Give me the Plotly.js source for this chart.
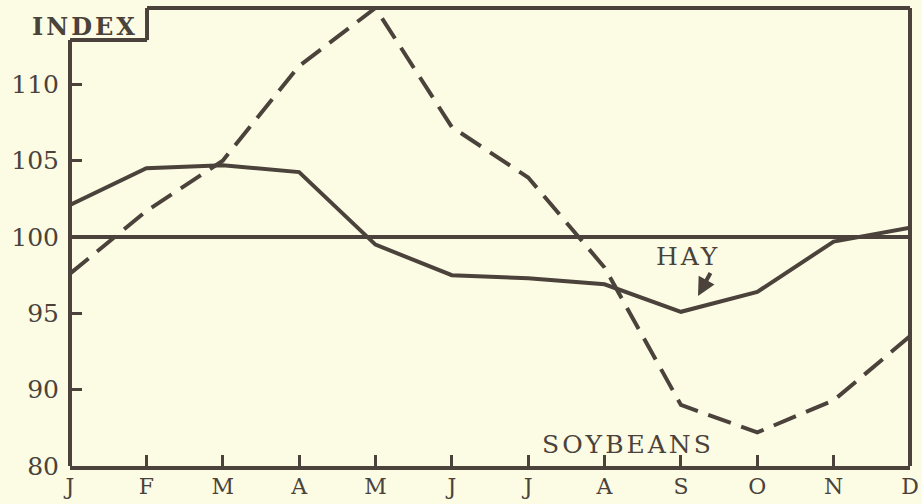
<!DOCTYPE html>
<html>
<head>
<meta charset="utf-8">
<script src="https://cdn.plot.ly/plotly-3.0.1.min.js"></script>
<style>
  body { margin: 0; background: #fcfce4; }
  #chart { width: 922px; height: 504px; }
  .annotation-text { letter-spacing: 3px; }
</style>
</head>
<body>
<div id="chart"></div>
<script>
// Month positions and labels
const months = [1, 2, 3, 4, 5, 6, 7, 8, 9, 10, 11, 12];
const monthLabels = ['J', 'F', 'M', 'A', 'M', 'J', 'J', 'A', 'S', 'O', 'N', 'D'];

// Seasonal index values
const hay = [102.1, 104.5, 104.7, 104.25, 99.5, 97.5, 97.3, 96.9, 95.1, 96.4, 99.7, 100.6];
const soybeans = [97.6, 101.7, 105.0, 111.2, 115.0, 107.2, 103.9, 98.0, 89.0, 87.2, 89.3, 93.5];

// Y axis ticks (bottom label printed as "80" in the original)
const yTickVals = [85, 90, 95, 100, 105, 110];
const yTickText = ['80', '90', '95', '100', '105', '110'];

const ink = '#4a423b';
const bg = '#fcfce4';
const serif = 'DejaVu Serif, Liberation Serif, serif';

const traces = [
  {
    x: months, y: hay, type: 'scatter', mode: 'lines', name: 'Hay',
    line: { color: ink, width: 4 }, hoverinfo: 'skip'
  },
  {
    x: months, y: soybeans, type: 'scatter', mode: 'lines', name: 'Soybeans',
    line: { color: ink, width: 4, dash: '24px,11px' }, hoverinfo: 'skip'
  }
];

const boxX = 0.0917;   // right edge of the INDEX box (paper)
const boxY = 0.930;    // bottom edge of the INDEX box (paper)

const layout = {
  width: 922, height: 504,
  margin: { l: 70, r: 12, t: 8, b: 38 },
  paper_bgcolor: bg, plot_bgcolor: bg,
  showlegend: false,
  font: { family: serif, color: ink, size: 24 },
  xaxis: {
    range: [1, 12], tickvals: months, ticktext: monthLabels,
    ticks: 'inside', ticklen: 11, tickwidth: 3, tickcolor: ink,
    showgrid: false, zeroline: false,
    showline: true, linecolor: ink, linewidth: 4,
    tickfont: { family: serif, size: 22, color: ink },
    ticklabelstandoff: -2, fixedrange: true
  },
  yaxis: {
    range: [85, 115], tickvals: yTickVals, ticktext: yTickText,
    ticks: 'inside', ticklen: 12, tickwidth: 3, tickcolor: ink,
    showgrid: false, zeroline: false, showline: false,
    tickfont: { family: serif, size: 25, color: ink },
    ticklabelstandoff: 10, fixedrange: true
  },
  shapes: [
    // reference line at 100
    { type: 'line', xref: 'paper', yref: 'y', x0: 0, x1: 1, y0: 100, y1: 100, line: { color: ink, width: 4 } },
    // left axis (below INDEX box)
    { type: 'line', xref: 'paper', yref: 'paper', x0: 0, x1: 0, y0: 0, y1: boxY, line: { color: ink, width: 4 } },
    // INDEX box bottom
    { type: 'line', xref: 'paper', yref: 'paper', x0: 0, x1: boxX, y0: boxY, y1: boxY, line: { color: ink, width: 4 } },
    // INDEX box right
    { type: 'line', xref: 'paper', yref: 'paper', x0: boxX, x1: boxX, y0: boxY, y1: 1, line: { color: ink, width: 4 } },
    // top border
    { type: 'line', xref: 'paper', yref: 'paper', x0: boxX, x1: 1, y0: 1, y1: 1, line: { color: ink, width: 4 } },
    // right border
    { type: 'line', xref: 'paper', yref: 'paper', x0: 1, x1: 1, y0: 0, y1: 1, line: { color: ink, width: 4 } }
  ],
  annotations: [
    { x: 1.2, y: 113.8, xref: 'x', yref: 'y', text: '<b>INDEX</b>', showarrow: false,
      font: { family: serif, size: 24, color: ink } },
    { x: 9.093, y: 98.72, xref: 'x', yref: 'y', text: 'HAY', showarrow: false,
      font: { family: serif, size: 25, color: ink } },
    { x: 9.224, y: 96.14, xref: 'x', yref: 'y', text: ' ', showarrow: true,
      font: { size: 1 }, borderpad: 0,
      ax: 13, ay: -24, arrowhead: 2, arrowsize: 0.9, arrowwidth: 4, arrowcolor: ink, standoff: 0 },
    { x: 8.307, y: 86.44, xref: 'x', yref: 'y', text: 'SOYBEANS', showarrow: false,
      font: { family: serif, size: 25, color: ink } }
  ]
};

Plotly.newPlot('chart', traces, layout, { displayModeBar: false, staticPlot: true });
</script>
</body>
</html>
